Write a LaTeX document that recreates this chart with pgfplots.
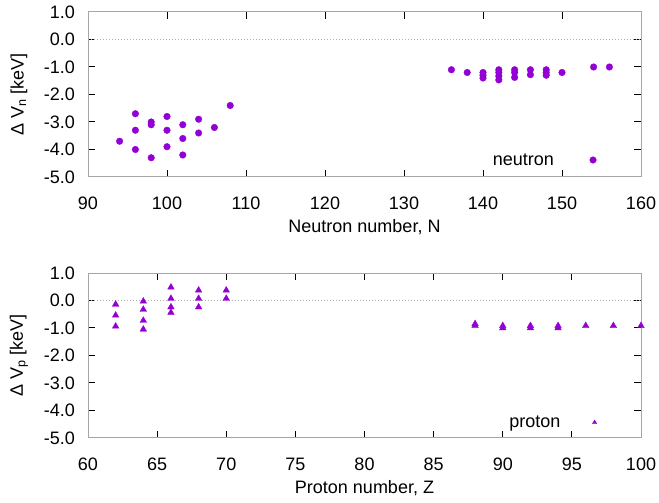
\documentclass[border=0pt]{standalone}
\usepackage{fontspec}
\setmainfont{Liberation Sans}
\usepackage{pgfplots}
\pgfplotsset{compat=1.18}
\definecolor{pts}{HTML}{9400D3}
\newcommand{\fsz}{\fontsize{18bp}{21bp}\selectfont}
\pgfplotsset{gp/.style={
  scale only axis, width=553bp, height=165bp, anchor=south west,
  axis line style={draw=gray!70, line width=1bp},
  tick style={black, line width=1bp}, major tick length=7bp, tick align=inside,
  ymin=-5, ymax=1, ytick={-5,-4,...,1},
  /pgf/number format/assume math mode=true,
  yticklabel style={/pgf/number format/fixed, /pgf/number format/fixed zerofill, /pgf/number format/precision=1},
  every tick label/.append style={font=\fsz},
  xticklabel style={anchor=center, yshift=-26bp},
  yticklabel style={anchor=east, inner sep=0pt, xshift=-13bp},
  every axis label/.append style={font=\fsz},
  every axis y label/.style={at={(axis description cs:-0.125,0.5)}, rotate=90, anchor=center},
  every axis x label/.style={at={(axis description cs:0.5,0)}, anchor=center, yshift=-50bp},
  legend style={draw=none, fill=none, font=\fsz, anchor=west, inner sep=0pt, outer sep=0pt, nodes={inner sep=0pt, outer sep=0pt}},
  legend plot pos=right,
}}
\begin{document}
\begin{tikzpicture}[x=1bp,y=1bp]
\useasboundingbox (0,0) rectangle (659,503);
\begin{axis}[gp, at={(88bp,326bp)}, xmin=90, xmax=160, xtick={90,100,...,160},
  xlabel={Neutron number, N}, ylabel={Δ V\textsubscript{n} [keV]},
  legend style={at={(0.732,0.103)}},
  legend image code/.code={\path (0bp,0bp); \draw[#1] plot coordinates {(39bp,0bp)};}]
\addplot[gray!60, dotted, line width=1bp, forget plot] coordinates {(90,0)(160,0)};
\addplot[only marks, mark=*, mark size=3.3bp, color=pts, mark options={draw=pts, fill=pts}] coordinates {
(94,-3.7) (96,-2.7) (96,-3.3) (96,-4.0) (98,-3.0) (98,-3.1) (98,-4.3)
(100,-2.8) (100,-3.3) (100,-3.9) (102,-3.1) (102,-3.6) (102,-4.2)
(104,-2.9) (104,-3.4) (106,-3.2) (108,-2.4)
(136,-1.1) (138,-1.2) (140,-1.2) (140,-1.3) (140,-1.4)
(142,-1.1) (142,-1.2) (142,-1.33) (142,-1.47)
(144,-1.1) (144,-1.2) (144,-1.38) (146,-1.1) (146,-1.28)
(148,-1.1) (148,-1.2) (148,-1.3) (150,-1.2) (154,-1.0) (156,-1.0)
};
\addlegendentry{neutron}
\end{axis}
\begin{axis}[gp, at={(88bp,65bp)}, xmin=60, xmax=100, xtick={60,65,...,100},
  xlabel={Proton number, Z}, ylabel={Δ V\textsubscript{p} [keV]},
  legend style={at={(0.762,0.094)}},
  legend image code/.code={\path (0bp,0bp); \draw[#1, mark size=2.5bp] plot coordinates {(34bp,0bp)};}]
\addplot[gray!60, dotted, line width=1bp, forget plot] coordinates {(60,0)(100,0)};
\addplot[only marks, mark=triangle*, mark size=3.8bp, color=pts, mark options={draw=pts, fill=pts}] coordinates {
(62,-0.14) (62,-0.54) (62,-0.94)
(64,-0.03) (64,-0.33) (64,-0.73) (64,-1.05)
(66,0.48) (66,0.07) (66,-0.24) (66,-0.44)
(68,0.37) (68,0.07) (68,-0.24)
(70,0.37) (70,0.07)
(88,-0.85) (88,-0.92) (90,-0.92) (90,-1.0) (92,-0.92) (92,-1.0) (94,-0.92) (94,-1.0)
(96,-0.92) (98,-0.92) (100,-0.92)
};
\addlegendentry{proton}
\end{axis}
\end{tikzpicture}
\end{document}
